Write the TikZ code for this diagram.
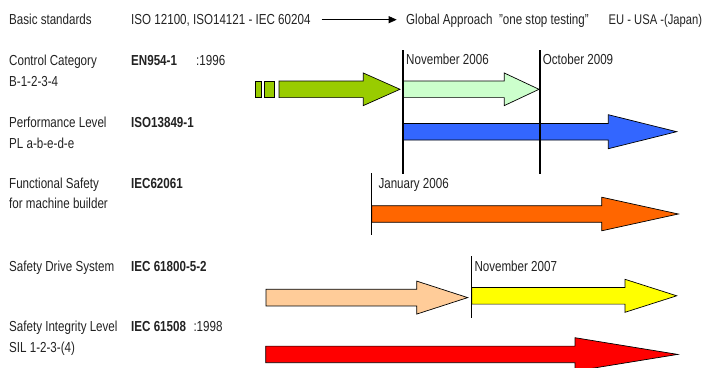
\documentclass[tikz,border=0pt]{standalone}
\usepackage{fontspec}
\setmainfont{Liberation Sans}[FakeStretch=0.8]
\usetikzlibrary{arrows.meta}
\definecolor{cgreen}{HTML}{99CC00}
\definecolor{clgreen}{HTML}{CCFFCC}
\definecolor{cblue}{HTML}{3366FF}
\definecolor{corange}{HTML}{FF6600}
\definecolor{cpeach}{HTML}{FFCC99}
\definecolor{cyellow}{HTML}{FFFF00}
\definecolor{cred}{HTML}{FF0000}
\definecolor{ctext}{HTML}{222222}
% #1 fill, #2 start x, #3 head base x, #4 tip x, #5 centre y, #6 head half height
\newcommand\blockarrow[6]{%
  \draw[barrow,fill=#1] (#2,#5-8.3) -- (#3,#5-8.3) -- (#3,#5-#6) -- (#4,#5)
    -- (#3,#5+#6) -- (#3,#5+8.3) -- (#2,#5+8.3) -- cycle;}
\begin{document}
\begin{tikzpicture}[x=1pt,y=-1pt,
  lbl/.style={anchor=base west,inner sep=0pt,text=ctext,font=\fontsize{14.5}{16}\selectfont},
  std/.style={lbl,font=\fontsize{14.5}{16}\selectfont\bfseries},
  barrow/.style={draw=black,line width=0.7pt,line join=miter},
  tline/.style={draw=black,line width=1.7pt},
  tthin/.style={draw=black,line width=0.9pt}]
\useasboundingbox (0,0) rectangle (704,367);
\clip (0,0) rectangle (704,367);
% left column
\node[lbl] (l1) at (9,24.3) {Basic standards};
\node[lbl] (l2a) at (9,65.3) {Control Category};
\node[lbl] (l2b) at (9,86.3) {B-1-2-3-4};
\node[lbl] (l3a) at (9,127) {Performance Level};
\node[lbl] (l3b) at (9,148) {PL a-b-e-d-e};
\node[lbl] (l4a) at (9,188.6) {Functional Safety};
\node[lbl] (l4b) at (9,208.6) {for machine builder};
\node[lbl] (l5) at (9,271) {Safety Drive System};
\node[lbl] (l6a) at (9,331.3) {Safety Integrity Level};
\node[lbl] (l6b) at (9,352.6) {SIL 1-2-3-(4)};
% standards
\node[lbl] (s1) at (131,24.3) {ISO 12100, ISO14121 - IEC 60204};
\node[std] (s2) at (131,65.3) {EN954-1};
\node[lbl] (y2) at (196,65.3) {:1996};
\node[std] (s3) at (131,127) {ISO13849-1};
\node[std] (s4) at (131,188.6) {IEC62061};
\node[std] (s5) at (131,271) {IEC 61800-5-2};
\node[std] (s6) at (131,331.3) {IEC 61508};
\node[lbl] (y6) at (193.3,331.3) {:1998};
% top line
\node[lbl] (g1) at (406,24.5) {Global Approach\ \ "one stop testing"};
\node[lbl,font=\fontsize{14}{16}\selectfont] (g2) at (608.5,24.5) {EU - USA -(Japan)};
\draw[line width=0.8pt,-{Triangle[length=8pt,width=7pt]}] (321.7,19.7) coordinate (a0) -- (396.7,19.7) coordinate (a1);
% date labels
\node[lbl] (d1) at (406,64.3) {November 2006};
\node[lbl] (d2) at (542.7,64.3) {October 2009};
\node[lbl] (d3) at (378.3,188.6) {January 2006};
\node[lbl] (d4) at (474.3,271.3) {November 2007};
% arrows
\draw[barrow,fill=cgreen] (255.7,81) rectangle (261,97.7);
\draw[barrow,fill=cgreen] (264.3,81) rectangle (274.3,97.7);
\blockarrow{cgreen}{279}{363.3}{400}{89.3}{16.3}
\blockarrow{clgreen}{403.3}{504.3}{539}{89.3}{16.3}
\blockarrow{cblue}{403.3}{608.3}{676.7}{131.7}{17}
\blockarrow{corange}{371.7}{601.7}{678.3}{214}{16.8}
\blockarrow{cpeach}{266}{416.7}{467.7}{297.6}{16.5}
\blockarrow{cyellow}{471.7}{625}{676.7}{295.8}{16.5}
\blockarrow{cred}{265.7}{575}{677.7}{354.4}{16.7}
% time lines
\coordinate (v1t) at (402.7,50); \coordinate (v1b) at (402.7,174.3);
\coordinate (v2t) at (540,50); \coordinate (v2b) at (540,174.3);
\coordinate (v3t) at (371,173.3); \coordinate (v3b) at (371,235);
\coordinate (v4t) at (471,256); \coordinate (v4b) at (471,318.3);
\draw[tline] (v1t) -- (v1b);
\draw[tline] (v2t) -- (v2b);
\draw[tthin] (v3t) -- (v3b);
\draw[tthin] (v4t) -- (v4b);
\end{tikzpicture}
\end{document}
